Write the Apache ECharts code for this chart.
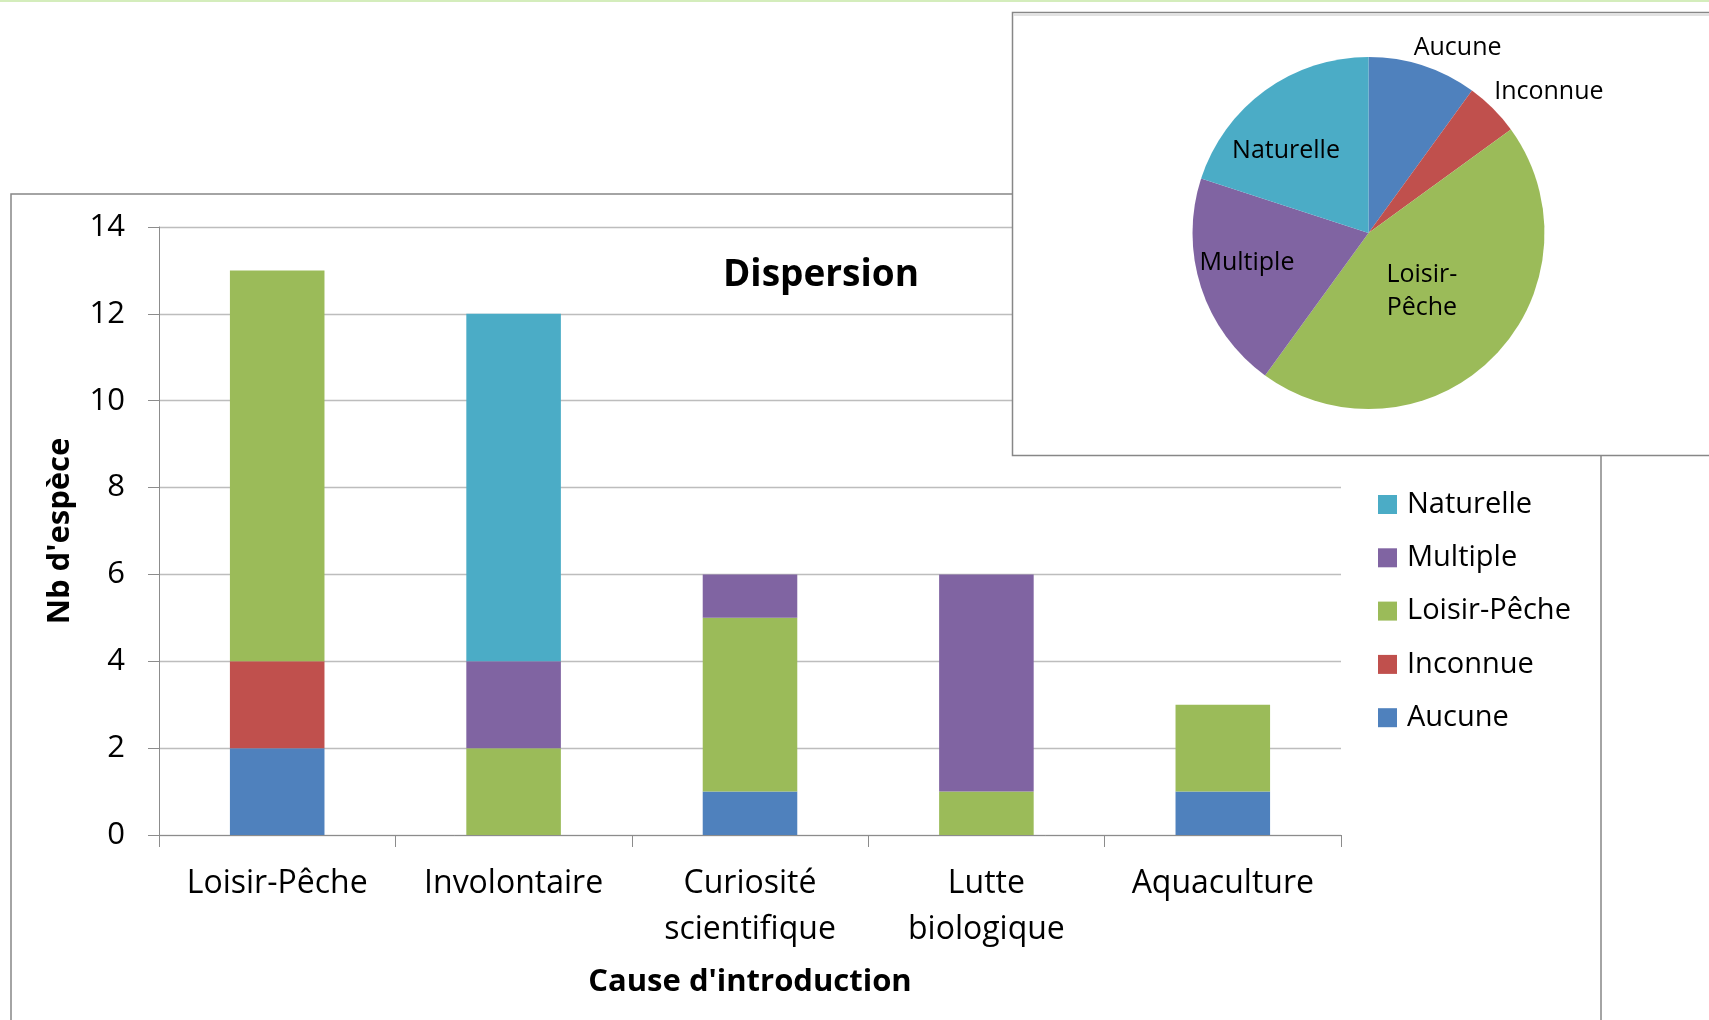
<!DOCTYPE html>
<html>
<head>
<meta charset="utf-8">
<script src="https://cdn.jsdelivr.net/npm/echarts@6/dist/echarts.min.js"></script>
<style>
  html, body { margin: 0; padding: 0; background: #ffffff; }
  #chart { width: 1709px; height: 1020px; }
</style>
</head>
<body>
<div id="chart"></div>
<script>
// Causes of introduction (x axis) and species counts per dispersion mode
const categories = ['Loisir-Pêche', 'Involontaire', 'Curiosité scientifique', 'Lutte biologique', 'Aquaculture'];
const aucune      = [2, 0, 1, 0, 1];
const inconnue    = [2, 0, 0, 0, 0];
const loisirPeche = [9, 2, 4, 1, 2];
const multiple    = [0, 2, 1, 5, 0];
const naturelle   = [0, 8, 0, 0, 0];

// Dispersion totals shown in the pie
const pieNames  = ['Aucune', 'Inconnue', 'Loisir-Pêche', 'Multiple', 'Naturelle'];
const pieValues = [4, 2, 18, 8, 8];

const legendOrder = ['Naturelle', 'Multiple', 'Loisir-Pêche', 'Inconnue', 'Aucune'];

const colors = {
  'Aucune': '#4F81BD',
  'Inconnue': '#C0504D',
  'Loisir-Pêche': '#9BBB59',
  'Multiple': '#8064A2',
  'Naturelle': '#4BACC6'
};

// label placement for each pie slice
const pieLabelOffsets = {
  'Aucune': [61, -99],
  'Inconnue': [116, -77],
  'Loisir-Pêche': [-11, -6],
  'Multiple': [-35, 2],
  'Naturelle': [-29, -9]
};

const FONT = '"Open Sans", "Liberation Sans", sans-serif';
const AXIS_GREY = '#8c8c8c';

function barSeries(name, values) {
  return {
    name: name,
    type: 'bar',
    stack: 'total',
    data: values,
    barCategoryGap: '60%',
    itemStyle: { color: colors[name], borderWidth: 0 },
    emphasis: { disabled: true },
    z: 2
  };
}

const chart = echarts.init(document.getElementById('chart'), null, { renderer: 'canvas' });

chart.setOption({
  animation: false,
  backgroundColor: '#ffffff',
  title: {
    text: 'Dispersion',
    left: 816,
    top: 249,
    textAlign: 'center',
    textStyle: { fontFamily: FONT, fontSize: 37, fontWeight: 'bold', color: '#000', lineHeight: 42 }
  },
  graphic: [
    { type: 'rect', z: 1, shape: { x: 0, y: 0, width: 1709, height: 2 }, style: { fill: '#d4edbc' } },
    { type: 'rect', z: 1, shape: { x: 11, y: 194, width: 1590, height: 900 }, style: { fill: 'none', stroke: '#878787', lineWidth: 1.5 } },
    { type: 'rect', z: 3, shape: { x: 1012.5, y: 12.5, width: 800, height: 443 }, style: { fill: '#ffffff', stroke: '#878787', lineWidth: 1.5 } },
    { type: 'line', z: 3, shape: { x1: 1013, y1: 15, x2: 1709, y2: 15 }, style: { stroke: '#d9d9d9', lineWidth: 1.5 } }
  ],
  legend: {
    orient: 'vertical',
    left: 1378,
    top: 490,
    padding: 0,
    itemWidth: 19,
    itemHeight: 19,
    itemGap: 24.3,
    icon: 'rect',
    data: legendOrder,
    selectedMode: false,
    textStyle: { fontFamily: FONT, fontSize: 29, color: '#000', lineHeight: 29, padding: [0, 0, 0, 5] }
  },
  grid: { left: 159, right: 368, top: 227, bottom: 185, containLabel: false },
  xAxis: {
    type: 'category',
    data: categories,
    name: "Cause d'introduction",
    nameLocation: 'middle',
    nameGap: 132,
    nameTextStyle: { fontFamily: FONT, fontSize: 31, fontWeight: 'bold', color: '#000' },
    axisLine: { show: true, lineStyle: { color: AXIS_GREY, width: 1 } },
    axisTick: { show: true, alignWithLabel: false, length: 12, lineStyle: { color: AXIS_GREY } },
    axisLabel: {
      interval: 0,
      margin: 26,
      fontFamily: FONT,
      fontSize: 32,
      lineHeight: 46,
      color: '#000',
      formatter: function (v) { return v.replace(' ', '\n'); }
    },
    splitLine: { show: false }
  },
  yAxis: {
    type: 'value',
    min: 0,
    max: 14,
    interval: 2,
    name: "Nb d'espèce",
    nameLocation: 'middle',
    nameGap: 83,
    nameRotate: 90,
    nameTextStyle: { fontFamily: FONT, fontSize: 31, fontWeight: 'bold', color: '#000' },
    axisLine: { show: true, lineStyle: { color: AXIS_GREY, width: 1 } },
    axisTick: { show: true, inside: false, length: 11, lineStyle: { color: AXIS_GREY } },
    axisLabel: { margin: 34, fontFamily: FONT, fontSize: 31, color: '#000' },
    splitLine: { show: true, lineStyle: { color: '#bdbdbd', width: 1.3 } }
  },
  series: [
    barSeries('Aucune', aucune),
    barSeries('Inconnue', inconnue),
    barSeries('Loisir-Pêche', loisirPeche),
    barSeries('Multiple', multiple),
    barSeries('Naturelle', naturelle),
    {
      name: 'Dispersion',
      type: 'pie',
      z: 4,
      center: [1368.5, 233],
      radius: 176,
      startAngle: 90,
      clockwise: true,
      legendHoverLink: false,
      emphasis: { disabled: true },
      labelLine: { show: false },
      itemStyle: { borderWidth: 0 },
      data: pieNames.map(function (n, i) {
        return {
          name: n,
          value: pieValues[i],
          itemStyle: { color: colors[n], borderWidth: 0 },
          label: {
            show: true,
            position: 'inside',
            offset: pieLabelOffsets[n],
            fontFamily: FONT,
            fontSize: 25,
            lineHeight: 33,
            color: '#000',
            align: 'center',
            formatter: function (p) { return p.name.replace('-', '-\n'); }
          }
        };
      })
    }
  ]
});
</script>
</body>
</html>
